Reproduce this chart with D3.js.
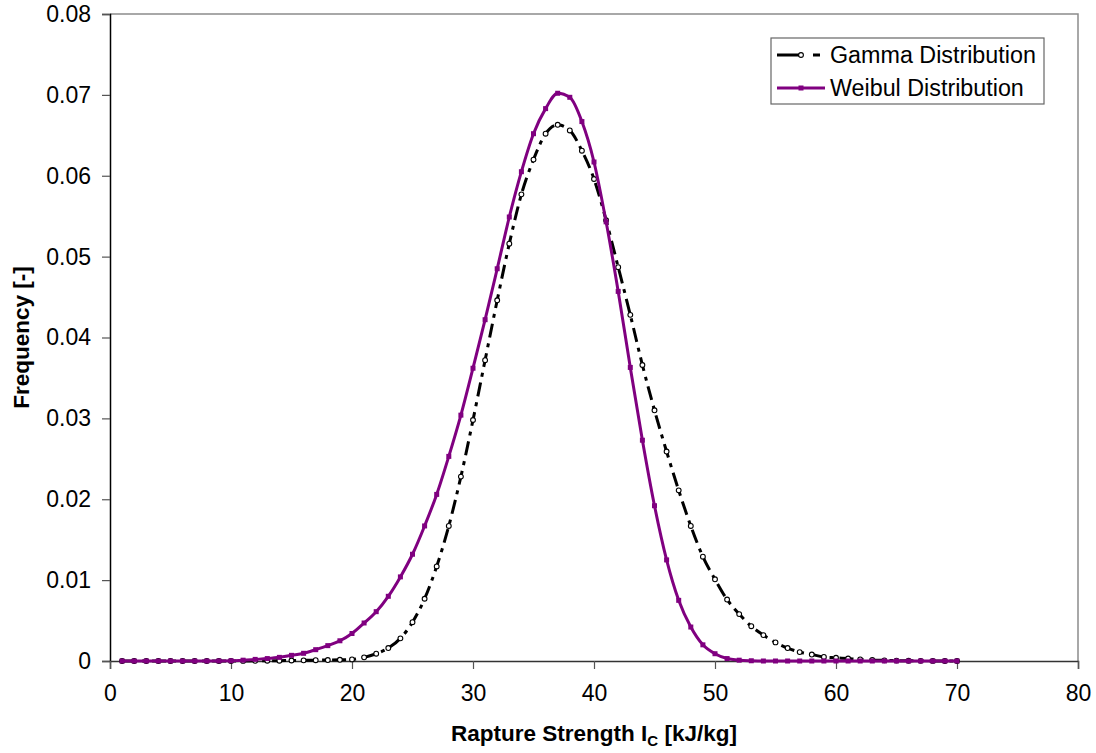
<!DOCTYPE html>
<html>
<head>
<meta charset="utf-8">
<script src="https://cdn.jsdelivr.net/npm/d3@7"></script>
<style>
  body { margin: 0; background: #fff; }
  svg { font-family: "Liberation Sans", Arial, sans-serif; }
</style>
</head>
<body>
<svg id="chart" width="1096" height="753"></svg>
<script>
// Data -------------------------------------
var strength = d3.range(1, 71); // 1..70 kJ/kg
var gammaFreq = [
  0, 0, 0, 0, 0, 0, 0, 0, 0, 0,
  0.00001, 0.00002, 0.00003, 0.00004, 0.00006, 0.00008, 0.0001, 0.00012, 0.00015, 0.0002,
  0.00045, 0.0009, 0.0016, 0.0028, 0.0048, 0.0077, 0.0117, 0.0167, 0.0228, 0.0298,
  0.0372, 0.0446, 0.0516, 0.0577, 0.0620, 0.0652, 0.0663, 0.0656, 0.0631, 0.0596,
  0.0545, 0.0487, 0.0428, 0.0366, 0.0310, 0.0259, 0.0211, 0.0167, 0.0129, 0.0101,
  0.0076, 0.0058, 0.0043, 0.0032, 0.0023, 0.0016, 0.0011, 0.0008, 0.0005, 0.0004,
  0.0003, 0.0002, 0.00012, 0.00008, 0.00005, 0.00003, 0.00002, 0.00001, 0, 0
];
var weibulFreq = [
  0, 0, 0, 0, 0, 0, 0, 0, 0.00001, 0.00003,
  0.0001, 0.0002, 0.0003, 0.00045, 0.0007, 0.00095, 0.0014, 0.0019, 0.0025, 0.0034,
  0.0047, 0.0061, 0.0080, 0.0104, 0.0132, 0.0167, 0.0206, 0.0253, 0.0304, 0.0362,
  0.0422, 0.0485, 0.0549, 0.0605, 0.0652, 0.0683, 0.0702, 0.0697, 0.0667, 0.0617,
  0.0543, 0.0457, 0.0363, 0.0273, 0.0192, 0.0125, 0.0075, 0.0042, 0.0020, 0.0009,
  0.0003, 0.0001, 0.00003, 0, 0, 0, 0, 0, 0, 0,
  0, 0, 0, 0, 0, 0, 0, 0, 0, 0
];
var xTicks = [0, 10, 20, 30, 40, 50, 60, 70, 80];
var yTicks = [0, 0.01, 0.02, 0.03, 0.04, 0.05, 0.06, 0.07, 0.08];
var seriesNames = ['Gamma Distribution', 'Weibul Distribution'];

// Layout -------------------------------------
var svg = d3.select('#chart');
var plotLeft = 110, plotRight = 1078, plotTop = 14, plotBottom = 661;

var x = d3.scaleLinear().domain([0, 80]).range([plotLeft, plotRight]);
var y = d3.scaleLinear().domain([0, 0.08]).range([plotBottom, plotTop]);

// plot frame (top and right in grey)
svg.append('path')
  .attr('d', 'M' + plotLeft + ',' + plotTop + 'H' + plotRight + 'V' + plotBottom)
  .attr('fill', 'none')
  .attr('stroke', '#8c8c8c')
  .attr('stroke-width', 1.5);

// Axes -------------------------------------
var yAxis = svg.append('g')
  .attr('transform', 'translate(' + plotLeft + ',0)')
  .call(d3.axisLeft(y).tickValues(yTicks).tickSize(8).tickPadding(11)
    .tickFormat(function(d) { return d === 0 ? '0' : d3.format('.2f')(d); }));
yAxis.select('.domain').attr('stroke', '#000').attr('stroke-width', 1.5);
yAxis.selectAll('.tick line').attr('stroke', '#555').attr('stroke-width', 1.2);
yAxis.selectAll('text').attr('font-size', 23).attr('fill', '#000')
  .attr('font-family', '"Liberation Sans", Arial, sans-serif');

var xAxis = svg.append('g')
  .attr('transform', 'translate(0,' + plotBottom + ')')
  .call(d3.axisBottom(x).tickValues(xTicks).tickSize(8).tickPadding(16));
xAxis.select('.domain').attr('stroke', '#333').attr('stroke-width', 1.5);
xAxis.selectAll('.tick line').attr('stroke', '#555').attr('stroke-width', 1.2);
xAxis.selectAll('text').attr('font-size', 23).attr('fill', '#000')
  .attr('font-family', '"Liberation Sans", Arial, sans-serif');

// Axis titles
svg.append('text')
  .attr('transform', 'translate(29,' + ((plotTop + plotBottom) / 2) + ') rotate(-90)')
  .attr('text-anchor', 'middle')
  .attr('font-size', 22.5).attr('font-weight', 'bold')
  .text('Frequency [-]');

var xt = svg.append('text')
  .attr('x', 594)
  .attr('y', 741)
  .attr('text-anchor', 'middle')
  .attr('font-size', 22.5).attr('font-weight', 'bold');
xt.append('tspan').text('Rapture Strength I');
xt.append('tspan').attr('font-size', 15).attr('dy', 5).text('C');
xt.append('tspan').attr('dy', -5).text(' [kJ/kg]');

// Series -------------------------------------
var gammaData = strength.map(function(d, i) { return { x: d, y: gammaFreq[i] }; });
var weibulData = strength.map(function(d, i) { return { x: d, y: weibulFreq[i] }; });

var line = d3.line()
  .x(function(d) { return x(d.x); })
  .y(function(d) { return y(d.y); })
  .curve(d3.curveMonotoneX);

svg.append('path')
  .datum(gammaData)
  .attr('d', line)
  .attr('fill', 'none')
  .attr('stroke', '#000')
  .attr('stroke-width', 3)
  .attr('stroke-dasharray', '14,6,4,6');

svg.selectAll('.gm')
  .data(gammaData)
  .enter()
  .append('circle')
  .attr('class', 'gm')
  .attr('cx', function(d) { return x(d.x); })
  .attr('cy', function(d) { return y(d.y); })
  .attr('r', 2.4)
  .attr('fill', '#fff')
  .attr('stroke', '#000')
  .attr('stroke-width', 1.1);

svg.append('path')
  .datum(weibulData)
  .attr('d', line)
  .attr('fill', 'none')
  .attr('stroke', '#800080')
  .attr('stroke-width', 3);

svg.selectAll('.wm')
  .data(weibulData)
  .enter()
  .append('rect')
  .attr('class', 'wm')
  .attr('x', function(d) { return x(d.x) - 2.5; })
  .attr('y', function(d) { return y(d.y) - 2.5; })
  .attr('width', 5)
  .attr('height', 5)
  .attr('fill', '#800080');

// Legend -------------------------------------
var legend = svg.append('g');
legend.append('rect')
  .attr('x', 771).attr('y', 38)
  .attr('width', 273).attr('height', 66)
  .attr('fill', '#fff')
  .attr('stroke', '#666')
  .attr('stroke-width', 1.2);

var rows = legend.selectAll('.row')
  .data(seriesNames)
  .enter()
  .append('g')
  .attr('transform', function(d, i) { return 'translate(0,' + (55 + i * 33) + ')'; });

rows.append('line')
  .attr('x1', 777).attr('x2', 825)
  .attr('y1', 0).attr('y2', 0)
  .attr('stroke', function(d, i) { return i === 0 ? '#000' : '#800080'; })
  .attr('stroke-width', 3)
  .attr('stroke-dasharray', function(d, i) { return i === 0 ? '23,13,7,20' : null; });

rows.each(function(d, i) {
  var g = d3.select(this);
  if (i === 0) {
    g.append('circle').attr('cx', 801).attr('cy', 0).attr('r', 2.4)
      .attr('fill', '#fff').attr('stroke', '#000').attr('stroke-width', 1.1);
  } else {
    g.append('rect').attr('x', 798.5).attr('y', -2.5).attr('width', 5).attr('height', 5)
      .attr('fill', '#800080');
  }
});

rows.append('text')
  .attr('x', 830).attr('y', 8)
  .attr('font-size', 23.3)
  .text(function(d) { return d; });
</script>
</body>
</html>
